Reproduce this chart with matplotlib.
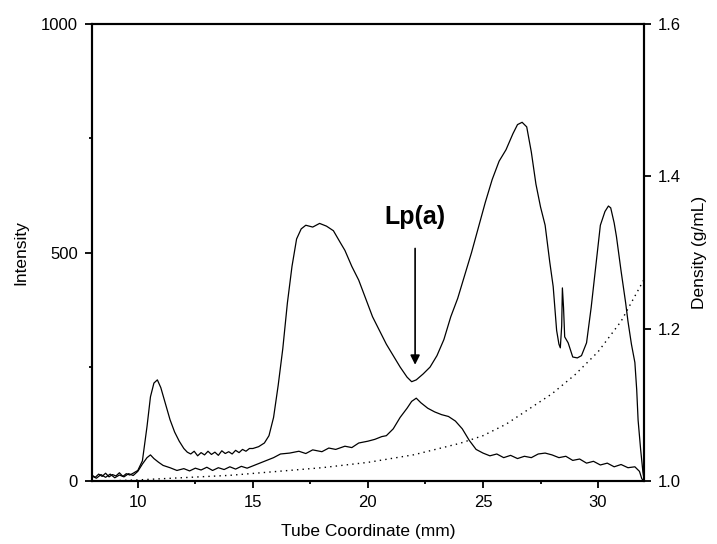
import matplotlib
matplotlib.use("Agg")
import matplotlib.pyplot as plt
from matplotlib.ticker import MultipleLocator

plt.rcParams['font.family'] = ['Liberation Sans', 'DejaVu Sans']

# Main trace (intensity vs tube coordinate)
upper_x = [8.0, 8.15, 8.3, 8.45, 8.6, 8.75, 8.9, 9.05, 9.2, 9.35, 9.5, 9.65, 9.8, 10.0,
           10.2, 10.4, 10.55, 10.7, 10.85, 11.0, 11.2, 11.4, 11.6, 11.8, 12.0, 12.15, 12.3,
           12.45, 12.6, 12.75, 12.9, 13.05, 13.2, 13.35, 13.5, 13.65, 13.8, 13.95, 14.1,
           14.25, 14.4, 14.55, 14.7, 14.85, 15.0, 15.25, 15.5, 15.7, 15.9, 16.1, 16.3, 16.5,
           16.7, 16.9, 17.1, 17.3, 17.6, 17.9, 18.2, 18.5, 18.8, 19.0, 19.3, 19.6, 19.9,
           20.2, 20.5, 20.8, 21.1, 21.4, 21.7, 21.9, 22.1, 22.4, 22.7, 23.0, 23.3, 23.6,
           23.9, 24.2, 24.5, 24.8, 25.1, 25.4, 25.7, 26.0, 26.3, 26.5, 26.7, 26.9, 27.1,
           27.3, 27.5, 27.7, 27.9, 28.05, 28.2, 28.3, 28.36, 28.42, 28.45, 28.5, 28.55, 28.7,
           28.9, 29.1, 29.28, 29.5, 29.7, 29.9, 30.1, 30.3, 30.45, 30.55, 30.7, 30.8, 31.0,
           31.2, 31.3, 31.45, 31.6, 31.68, 31.74, 31.85, 31.95, 32.0]
upper_y = [14, 9, 16, 11, 18, 10, 15, 12, 19, 11, 17, 14, 18, 24,
           45, 120, 185, 215, 222, 205, 170, 135, 108, 88, 72, 64, 60,
           66, 56, 63, 58, 66, 59, 64, 57, 67, 61, 65, 60, 68,
           63, 70, 66, 72, 72, 76, 84, 100, 140, 210, 290, 390,
           470, 530, 552, 560, 556, 564, 558, 548, 522, 505, 470, 440, 400,
           360, 330, 300, 275, 250, 228, 218, 222, 235, 250, 275, 310, 360,
           400, 450, 500, 555, 610, 660, 700, 725, 760, 780, 785, 775, 720,
           650, 600, 560, 480, 426, 330, 300, 292, 340, 423, 380, 316, 303,
           272, 270, 275, 303, 380, 470, 560, 590, 602, 598, 565, 535, 460,
           390, 350, 300, 260, 200, 134, 70, 20, 5]

# Second trace
lower_x = [8.0, 8.2, 8.4, 8.6, 8.8, 9.0, 9.2, 9.4, 9.6, 9.8, 10.0, 10.2, 10.4, 10.55,
           10.7, 10.9, 11.1, 11.4, 11.7, 12.0, 12.25, 12.5, 12.75, 13.0, 13.25, 13.5,
           13.75, 14.0, 14.25, 14.5, 14.75, 15.0, 15.3, 15.6, 15.9, 16.2, 16.6, 17.0, 17.3,
           17.6, 18.0, 18.3, 18.6, 19.0, 19.3, 19.6, 20.0, 20.3, 20.6, 20.8, 21.1, 21.4,
           21.7, 21.9, 22.1, 22.3, 22.6, 22.9, 23.2, 23.5, 23.8, 24.1, 24.4, 24.7, 25.0,
           25.3, 25.6, 25.9, 26.2, 26.5, 26.8, 27.1, 27.4, 27.7, 28.0, 28.3, 28.6, 28.9,
           29.2, 29.5, 29.8, 30.1, 30.4, 30.7, 31.0, 31.3, 31.6, 31.8, 31.9, 32.0]
lower_y = [12, 7, 15, 9, 16, 8, 14, 10, 17, 13, 22, 38, 52, 58,
           50, 42, 35, 30, 24, 28, 23, 29, 25, 31, 24, 30,
           26, 32, 27, 33, 29, 34, 40, 46, 52, 60, 62, 66, 61,
           69, 65, 73, 70, 77, 74, 84, 88, 92, 98, 100, 115, 140,
           160, 175, 182, 172, 160, 152, 146, 142, 132, 115, 90, 70, 62,
           56, 60, 52, 57, 50, 55, 52, 60, 62, 58, 52, 55, 46,
           49, 40, 44, 36, 40, 32, 37, 30, 32, 22, 6, 0]

# Density gradient (right axis)
dens_x = [8, 10, 12, 14, 16, 18, 20, 22, 24, 25, 26, 27, 28, 29, 30, 31, 32]
dens_y = [1.000, 1.002, 1.005, 1.008, 1.013, 1.018, 1.025, 1.035, 1.050, 1.060,
          1.075, 1.095, 1.115, 1.140, 1.170, 1.210, 1.265]

fig = plt.figure(figsize=(7.17, 5.44), dpi=100)
ax = fig.add_axes([0.128, 0.115, 0.7703, 0.841])

ax.plot(upper_x, upper_y, color="black", lw=0.9)
ax.plot(lower_x, lower_y, color="black", lw=0.9)

ax.set_xlim(8, 32)
ax.set_ylim(0, 1000)
ax.xaxis.set_major_locator(MultipleLocator(5))
ax.xaxis.set_minor_locator(MultipleLocator(2.5))
ax.yaxis.set_major_locator(MultipleLocator(500))
ax.yaxis.set_minor_locator(MultipleLocator(250))
ax.tick_params(which="major", direction="out", length=5, width=1.3, labelsize=12, pad=5)
ax.tick_params(which="minor", direction="out", length=2.5, width=1.3)
ax.tick_params(top=False, right=False, which="both")
for s in ax.spines.values():
    s.set_linewidth(1.5)

ax.set_xlabel("Tube Coordinate (mm)", fontsize=12.5, labelpad=10)
ax.set_ylabel("Intensity", fontsize=12.5, labelpad=9)

# Right axis for density
ax2 = ax.twinx()
ax2.plot(dens_x, dens_y, color="black", lw=1.0, linestyle=(0, (1, 3)))
ax2.set_ylim(1.0, 1.6)
ax2.set_yticks([1.0, 1.2, 1.4, 1.6])
ax2.set_yticklabels(["1.0", "1.2", "1.4", "1.6"])
ax2.tick_params(direction="out", length=5, width=1.3, labelsize=12, pad=5)
ax2.set_ylabel("Density (g/mL)", fontsize=12.5, labelpad=8)
for s in ax2.spines.values():
    s.set_linewidth(1.5)

# Lp(a) annotation
ax.annotate("Lp(a)", xy=(22.05, 255), xytext=(22.05, 578),
            ha="center", va="center", fontsize=18, fontweight="bold",
            arrowprops=dict(arrowstyle="-|>", color="black", lw=1.2,
                            mutation_scale=14, shrinkA=12, shrinkB=0))

fig.savefig("out.png", dpi=100)
